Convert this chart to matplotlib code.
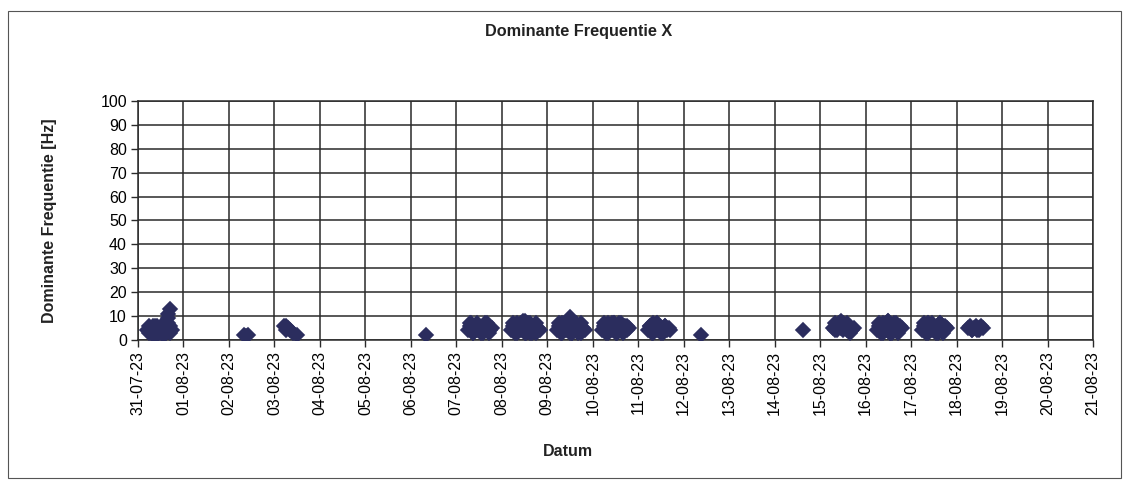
import datetime as dt

import matplotlib
matplotlib.use("Agg")
import matplotlib.dates as mdates
from matplotlib import pyplot as plt
from matplotlib.patches import Rectangle

plt.rcParams["font.family"] = ["Liberation Sans", "DejaVu Sans"]

start = dt.datetime(2023, 7, 31)
end = dt.datetime(2023, 8, 21)

# hours since 31-07-23 00:00, one line per measuring day
hours = [
    5, 6, 7, 8, 9, 10, 11, 12, 13, 14, 15, 16, 16, 17, 17, 18, 15, 13, 10, 8,
    6, 8, 10, 12, 14, 16, 15, 17,                                             # 31-07
    56, 57, 58,                                                               # 02-08
    77, 78, 79, 80, 82, 84, 78,                                               # 03-08
    152,                                                                      # 06-08
    174, 175, 176, 177, 178, 179, 180, 181, 182, 183, 184, 185, 186, 187,
    175, 177, 179, 181, 183, 185, 176, 184,                                   # 07-08
    197, 198, 199, 200, 201, 202, 203, 204, 205, 206, 207, 208, 209, 210, 211, 212,
    198, 200, 202, 204, 206, 208, 210, 204, 207,                              # 08-08
    221, 222, 223, 224, 225, 226, 227, 228, 229, 230, 231, 232, 233, 234, 235, 236,
    222, 224, 226, 228, 230, 232, 234, 228, 229,                              # 09-08
    245, 246, 247, 248, 249, 250, 251, 252, 253, 254, 255, 256, 257, 258, 259,
    246, 248, 250, 252, 254, 256, 258, 251,                                   # 10-08
    269, 270, 271, 272, 273, 274, 275, 276, 277, 278, 279, 280, 281,
    270, 272, 274, 276, 278, 274,                                             # 11-08
    297,                                                                      # 12-08
    351,                                                                      # 14-08
    367, 368, 369, 370, 371, 372, 373, 374, 375, 376, 377, 378,
    368, 370, 372, 374, 376, 371,                                             # 15-08
    390, 391, 392, 393, 394, 395, 396, 397, 398, 399, 400, 401, 402, 403,
    391, 393, 395, 397, 399, 401, 396, 397,                                   # 16-08
    414, 415, 416, 417, 418, 419, 420, 421, 422, 423, 424, 425, 426, 427,
    415, 417, 419, 421, 423, 425, 417, 423,                                   # 17-08
    438, 439, 440, 441, 442, 443, 444, 445, 446, 440, 444,                    # 18-08
]

freq = [
    4, 3, 5, 4, 6, 3, 5, 4, 6, 7, 5, 9, 11, 13, 6, 4, 3, 2, 2, 2,
    6, 6, 6, 6, 6, 7, 3, 3,
    2, 1.5, 2,
    6, 4, 5, 4, 3, 2, 6,
    2,
    4, 6, 5, 3, 5, 4, 6, 5, 3, 4, 6, 5, 4, 5,
    7, 3, 7, 3, 7, 3, 7, 7,
    4, 6, 3, 7, 5, 4, 8, 6, 3, 5, 7, 4, 6, 3, 5, 4,
    7, 3, 7, 3, 7, 3, 7, 8, 3,
    4, 6, 3, 7, 5, 4, 8, 6, 3, 5, 7, 4, 6, 3, 5, 4,
    7, 3, 7, 3, 7, 3, 7, 9.5, 3,
    4, 6, 3, 7, 5, 4, 7, 5, 3, 6, 7, 4, 6, 4, 5,
    7, 3, 7, 3, 7, 3, 6, 7,
    4, 6, 3, 7, 5, 4, 6, 5, 3, 6, 4, 5, 4,
    6, 3, 7, 3, 6, 7,
    2,
    4,
    5, 7, 4, 6, 5, 7, 6, 4, 5, 3, 4, 5,
    4, 7, 4, 7, 4, 8,
    4, 6, 3, 7, 5, 4, 8, 6, 3, 5, 7, 4, 6, 5,
    7, 3, 7, 3, 7, 3, 8, 3,
    4, 6, 3, 7, 5, 4, 6, 5, 3, 7, 5, 4, 6, 5,
    7, 3, 7, 3, 7, 3, 7, 7,
    5, 6, 4, 5, 6, 4, 5, 6, 5, 4, 4,
]

y_ticks = list(range(0, 101, 10))

title = "Dominante Frequentie X"
x_title = "Datum"
y_title = "Dominante Frequentie [Hz]"

marker_color = "#2b2d5e"
grid_color = "#2a2a2a"

times = [start + dt.timedelta(hours=h) for h in hours]

fig = plt.figure(figsize=(11.32, 4.84), dpi=100)
fig.patch.set_facecolor("white")

# outer chart border
fig.patches.append(Rectangle((8 / 1132, 6 / 484), 1113 / 1132, 467 / 484,
                             transform=fig.transFigure, fill=False,
                             edgecolor="#555555", linewidth=0.8))

ax = fig.add_axes([138 / 1132, 144 / 484, 955 / 1132, 239 / 484])
ax.plot(times, freq, linestyle="none", marker="D", markersize=7,
        markerfacecolor=marker_color, markeredgecolor=marker_color,
        markeredgewidth=1.2, zorder=3)

ax.set_xlim(start, end)
ax.set_ylim(0, 100)
ax.set_yticks(y_ticks)
ax.xaxis.set_major_locator(mdates.DayLocator())
ax.xaxis.set_major_formatter(mdates.DateFormatter("%d-%m-%y"))
ax.tick_params(axis="x", labelrotation=90, labelsize=11.5, length=5,
               width=1, color=grid_color, pad=3)
ax.tick_params(axis="y", labelsize=11.5, length=5, width=1,
               color=grid_color, pad=3)

ax.grid(True, color=grid_color, linewidth=1.1)
ax.set_axisbelow(True)
for spine in ax.spines.values():
    spine.set_color(grid_color)
    spine.set_linewidth(1.1)

fig.text(0.511, 0.934, title, ha="center", va="center",
         fontsize=11.7, fontweight="bold", color="#222222")
fig.text(0.502, 0.068, x_title, ha="center", va="center",
         fontsize=11.5, fontweight="bold", color="#222222")
fig.text(0.044, 0.545, y_title, ha="center", va="center", rotation=90,
         fontsize=11.5, fontweight="bold", color="#222222")

fig.savefig("out.png", dpi=100)
